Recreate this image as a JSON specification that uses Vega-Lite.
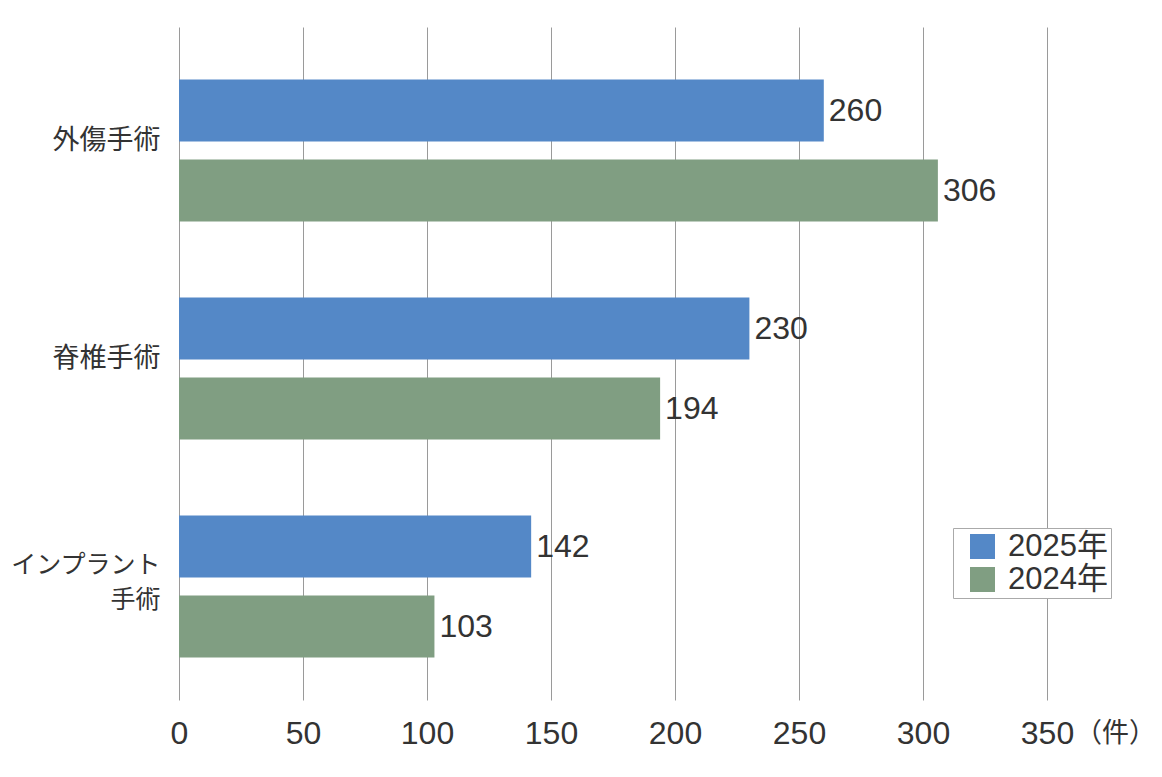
{
  "$schema": "https://vega.github.io/schema/vega-lite/v6.json",
  "width": 868,
  "height": 673,
  "autosize": {"type": "none"},
  "padding": {"left": 179, "top": 27, "right": 115, "bottom": 77},
  "background": "white",
  "config": {
    "font": "'Liberation Sans', 'Noto Sans CJK JP', sans-serif",
    "view": {"stroke": null}
  },
  "data": {
    "values": [
      {"category": "外傷手術", "year": "2025年", "count": 260},
      {"category": "外傷手術", "year": "2024年", "count": 306},
      {"category": "脊椎手術", "year": "2025年", "count": 230},
      {"category": "脊椎手術", "year": "2024年", "count": 194},
      {"category": "インプラント手術", "year": "2025年", "count": 142},
      {"category": "インプラント手術", "year": "2024年", "count": 103}
    ]
  },
  "encoding": {
    "y": {
      "field": "category",
      "type": "nominal",
      "sort": ["外傷手術", "脊椎手術", "インプラント手術"],
      "scale": {"paddingInner": 0.349, "paddingOuter": 0.218, "align": 0.553},
      "axis": {
        "title": null,
        "domain": false,
        "ticks": false,
        "labelFontSize": {"condition": {"test": "datum.value == 'インプラント手術'", "value": 25}, "value": 27},
        "labelOffset": {"condition": {"test": "datum.value == 'インプラント手術'", "value": -22}, "value": -10},
        "labelLineHeight": 35,
        "labelColor": "#333333",
        "labelPadding": 19,
        "labelExpr": "datum.label == 'インプラント手術' ? ['インプラント', '手術'] : datum.label"
      }
    },
    "yOffset": {
      "field": "year",
      "type": "nominal",
      "sort": ["2025年", "2024年"],
      "scale": {"paddingInner": 0.225, "paddingOuter": 0}
    },
    "x": {
      "field": "count",
      "type": "quantitative",
      "scale": {"domain": [0, 350], "nice": false},
      "axis": {
        "values": [0, 50, 100, 150, 200, 250, 300, 350],
        "grid": true,
        "gridColor": "#9a9a9a",
        "gridWidth": 1,
        "domain": false,
        "ticks": false,
        "labelFlush": false,
        "labelFontSize": 32,
        "labelColor": "#333333",
        "labelPadding": 18,
        "title": "（件）",
        "titleFontSize": 27,
        "titleFontWeight": "normal",
        "titleColor": "#333333",
        "titleX": 936,
        "titleY": 33,
        "titleAlign": "center",
        "titleBaseline": "middle",
        "titleAnchor": null
      }
    }
  },
  "layer": [
    {
      "mark": {"type": "bar"},
      "encoding": {
        "color": {
          "field": "year",
          "type": "nominal",
          "sort": ["2025年", "2024年"],
          "scale": {"domain": ["2025年", "2024年"], "range": ["#5488C7", "#809E82"]},
          "legend": {
            "title": null,
            "orient": "none",
            "legendX": 774,
            "legendY": 501,
            "symbolType": "square",
            "symbolSize": 625,
            "symbolStrokeWidth": 0,
            "symbolOpacity": 1,
            "symbolOffset": 11,
            "labelOffset": 10,
            "labelFontSize": 31,
            "labelColor": "#333333",
            "rowPadding": 1,
            "padding": 3,
            "fillColor": "white",
            "strokeColor": "#aaaaaa"
          }
        }
      }
    },
    {
      "mark": {
        "type": "text",
        "align": "left",
        "baseline": "middle",
        "dx": 5,
        "fontSize": 32,
        "color": "#333333"
      },
      "encoding": {"text": {"field": "count", "type": "quantitative"}}
    }
  ]
}
